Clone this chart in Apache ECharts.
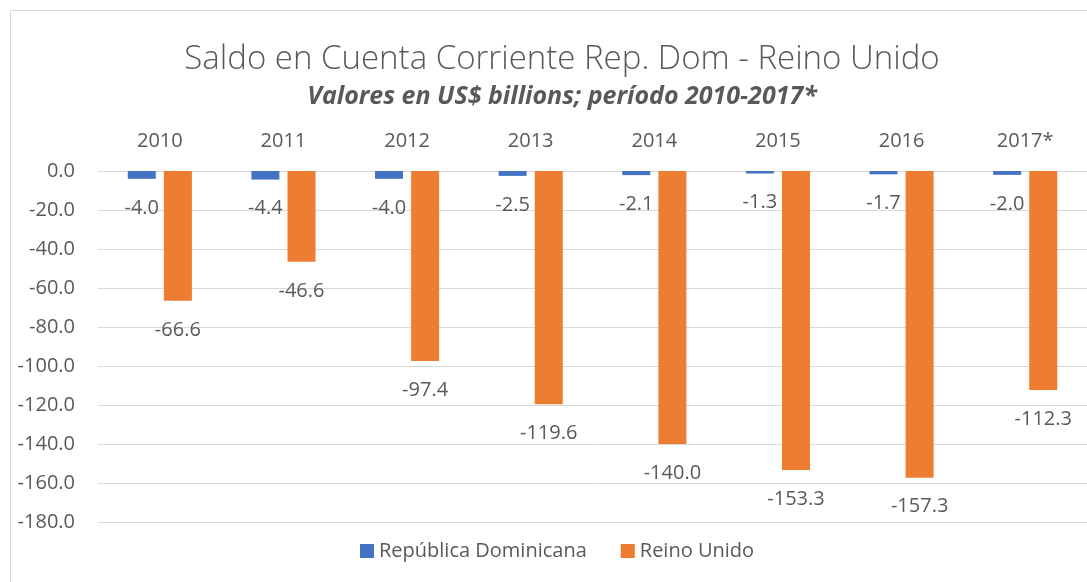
<!DOCTYPE html>
<html>
<head>
<meta charset="utf-8">
<script src="https://cdn.jsdelivr.net/npm/echarts@6/dist/echarts.min.js"></script>
<style>
  html, body { margin: 0; padding: 0; background: #fff; }
  #main { width: 1087px; height: 582px; }
</style>
</head>
<body>
<div id="main"></div>
<script>
// data
const years = ["2010", "2011", "2012", "2013", "2014", "2015", "2016", "2017*"];
const repDom = [-4.0, -4.4, -4.0, -2.5, -2.1, -1.3, -1.7, -2.0];
const reinoUnido = [-66.6, -46.6, -97.4, -119.6, -140.0, -153.3, -157.3, -112.3];

const font = "Open Sans";
const textColor = "#595959";

const chart = echarts.init(document.getElementById("main"));

chart.setOption({
  animation: false,
  textStyle: { fontFamily: font },
  title: {
    text: "Saldo en Cuenta Corriente Rep. Dom - Reino Unido",
    subtext: "Valores en US$ billions; período 2010-2017*",
    left: 557,
    top: 38,
    textAlign: "center",
    itemGap: 8,
    textStyle: { fontFamily: font, fontSize: 33, fontWeight: 300, color: textColor },
    subtextStyle: { fontFamily: font, fontSize: 25, fontWeight: "bold", fontStyle: "italic", color: textColor },
  },
  graphic: [
    {
      type: "rect",
      shape: { x: 10.5, y: 10.5, width: 1100, height: 600 },
      style: { fill: "none", stroke: "#d9d9d9", lineWidth: 1 },
      silent: true,
    },
  ],
  legend: {
    bottom: 16,
    left: 355,
    itemWidth: 14,
    itemHeight: 14,
    itemGap: 34,
    icon: "rect",
    textStyle: { fontFamily: font, fontSize: 20, color: textColor },
  },
  grid: { left: 98, top: 171, width: 993, height: 351 },
  xAxis: {
    type: "category",
    position: "top",
    data: years,
    axisLine: { show: true, lineStyle: { color: "#d9d9d9", width: 1 } },
    axisTick: { show: false },
    axisLabel: { margin: 20, fontFamily: font, fontSize: 20, color: textColor },
  },
  yAxis: {
    type: "value",
    min: -180,
    max: 0,
    interval: 20,
    axisLine: { show: false },
    axisTick: { show: false },
    splitLine: { lineStyle: { color: "#d9d9d9", width: 1 } },
    axisLabel: {
      margin: 23,
      fontFamily: font,
      fontSize: 20,
      color: textColor,
      formatter: (v) => v.toFixed(1),
    },
  },
  series: [
    {
      name: "República Dominicana",
      type: "bar",
      data: repDom,
      barWidth: 28,
      barGap: "29%",
      itemStyle: { color: "#4472C4" },
      label: {
        show: true,
        position: "bottom",
        distance: 19,
        fontFamily: font,
        fontSize: 20,
        color: textColor,
        formatter: (p) => p.value.toFixed(1),
      },
    },
    {
      name: "Reino Unido",
      type: "bar",
      data: reinoUnido,
      barWidth: 28,
      itemStyle: { color: "#ED7D31" },
      label: {
        show: true,
        position: "bottom",
        distance: 19,
        fontFamily: font,
        fontSize: 20,
        color: textColor,
        formatter: (p) => p.value.toFixed(1),
      },
    },
  ],
});
</script>
</body>
</html>
